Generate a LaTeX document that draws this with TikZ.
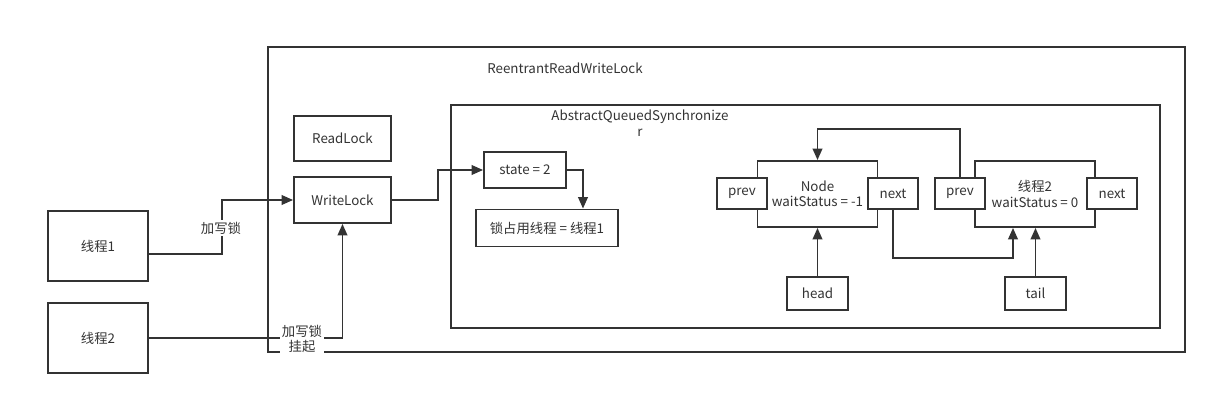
\documentclass[tikz,border=0pt]{standalone}
\usepackage{fontspec}
\setmainfont{Noto Sans CJK SC}
\definecolor{ink}{HTML}{333333}
\usetikzlibrary{arrows.meta, positioning, calc}
\newcommand{\lbfont}{\fontsize{7.6}{8.8}\selectfont}

\begin{document}
\begin{tikzpicture}[
    x=0.02cm, y=-0.02cm,
    box/.style={rectangle, draw=ink, fill=white, line width=1.1pt,
        inner sep=1pt, font=\lbfont, text=ink, align=center},
    frame/.style={rectangle, draw=ink, line width=1.1pt},
    ptr/.style={box, minimum width=1cm, minimum height=0.62cm},
    lbl/.style={font=\lbfont, text=ink, fill=white, inner sep=1pt, align=center},
    arr/.style={-{Triangle[length=6.5pt, width=5.5pt]}, line width=1pt, ink}
]
\useasboundingbox (0,0) rectangle (1218,405);

% outer frames
\node[frame, minimum width=18.34cm, minimum height=6.1cm] (rwl) at (726.5,199.5) {};
\node[lbl, fill=none] (rwlname) at (565,68) {ReentrantReadWriteLock};
\node[frame, minimum width=14.18cm, minimum height=4.46cm] (aqs) at (805.5,216.5) {};
\node[lbl, fill=none] (aqsname) at (640,123) {AbstractQueuedSynchronize\\r};

% threads and locks
\node[box, minimum width=2cm, minimum height=1.4cm] (t1) at (98,246) {线程1};
\node[box, minimum width=2cm, minimum height=1.4cm] (t2) at (98,338) {线程2};
\node[box, minimum width=1.94cm, minimum height=0.9cm] (rlock) at (342.5,138.5) {ReadLock};
\node[box, minimum width=1.94cm, minimum height=0.92cm] (wlock) at (342.5,200) {WriteLock};

% state of the synchronizer
\node[box, minimum width=1.64cm, minimum height=0.72cm] (state) at (525,170) {state = 2};
\node[box, minimum width=2.84cm, minimum height=0.74cm] (holder) at (547,228) {锁占用线程 = 线程1};

% wait queue
\node[box, minimum width=2.4cm, minimum height=1.32cm] (node1) at (817.5,194) {Node\\waitStatus = -1};
\node[ptr] (prev1) at (742,193.5) {prev};
\node[ptr] (next1) at (893,193.5) {next};
\node[box, minimum width=2.4cm, minimum height=1.32cm] (node2) at (1035,194) {线程2\\waitStatus = 0};
\node[ptr] (prev2) at (960,193.5) {prev};
\node[ptr] (next2) at (1112,193.5) {next};
\node[box, minimum width=1.22cm, minimum height=0.66cm] (head) at (817.5,293.5) {head};
\node[box, minimum width=1.22cm, minimum height=0.66cm] (tail) at (1035.5,293.5) {tail};

% connectors
\draw[arr] ([yshift=-0.16cm]t1.east) -- ++(73,0) |- (wlock.west);
\node[lbl] (wlabel1) at (221,228) {加写锁};
\draw[arr] (t2.east) -| (wlock.south);
\node[lbl] (wlabel2) at (302,339) {加写锁\\挂起};
\draw[arr] (wlock.east) -- ++(46,0) |- (state.west);
\draw[arr] (state.east) -| ([xshift=0.72cm]holder.north);
\draw[arr] (prev2.north) -- ++(0,-48) -| (node1.north);
\draw[arr] (next1.south) -- ++(0,48) -| ([xshift=-0.44cm]node2.south);
\draw[arr] (head) -- (node1);
\draw[arr] (tail) -- (tail |- node2.south);
\end{tikzpicture}
\end{document}
